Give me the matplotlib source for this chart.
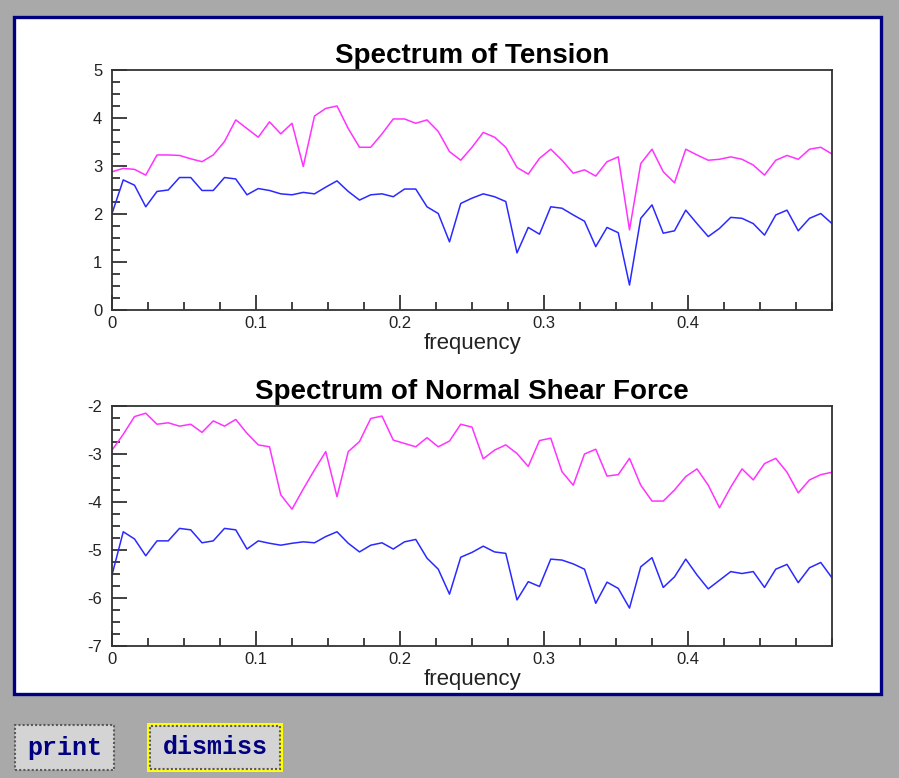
import numpy as np
import matplotlib
matplotlib.use("Agg")
import matplotlib.pyplot as plt
from matplotlib.patches import Rectangle
from matplotlib.ticker import MultipleLocator

plt.rcParams["font.family"] = ["Liberation Sans", "DejaVu Sans"]
plt.rcParams["axes.unicode_minus"] = False

# frequency grid: 65 bins from 0 to 0.5
freq = np.arange(65) / 128.0

tension_hi = [2.88, 2.95, 2.93, 2.81, 3.23, 3.23, 3.22, 3.15, 3.09, 3.23,
              3.51, 3.96, 3.78, 3.60, 3.92, 3.67, 3.89, 2.99, 4.04, 4.20,
              4.25, 3.78, 3.39, 3.39, 3.67, 3.98, 3.98, 3.89, 3.96, 3.72,
              3.30, 3.12, 3.39, 3.70, 3.60, 3.39, 2.97, 2.83, 3.16, 3.35,
              3.12, 2.85, 2.92, 2.79, 3.09, 3.19, 1.67, 3.05, 3.35, 2.88,
              2.65, 3.35, 3.23, 3.12, 3.14, 3.19, 3.14, 3.02, 2.81, 3.12,
              3.22, 3.14, 3.35, 3.39, 3.25]
tension_lo = [2.01, 2.71, 2.60, 2.15, 2.47, 2.50, 2.76, 2.76, 2.49, 2.49,
              2.76, 2.73, 2.40, 2.53, 2.49, 2.42, 2.40, 2.45, 2.42, 2.56,
              2.69, 2.47, 2.29, 2.40, 2.42, 2.36, 2.52, 2.52, 2.15, 2.01,
              1.42, 2.22, 2.33, 2.42, 2.36, 2.26, 1.19, 1.72, 1.58, 2.15,
              2.12, 1.98, 1.85, 1.32, 1.72, 1.61, 0.52, 1.91, 2.19, 1.60,
              1.65, 2.08, 1.80, 1.53, 1.70, 1.93, 1.91, 1.80, 1.56, 1.98,
              2.08, 1.65, 1.91, 2.01, 1.80]
shear_hi = [-2.92, -2.59, -2.22, -2.15, -2.38, -2.35, -2.42, -2.38, -2.55, -2.31,
            -2.42, -2.28, -2.57, -2.81, -2.85, -3.85, -4.15, -3.73, -3.33, -2.95,
            -3.89, -2.95, -2.74, -2.26, -2.21, -2.71, -2.78, -2.85, -2.66, -2.85,
            -2.73, -2.38, -2.44, -3.10, -2.92, -2.81, -2.99, -3.26, -2.72, -2.67,
            -3.37, -3.65, -3.00, -2.90, -3.46, -3.43, -3.09, -3.65, -3.98, -3.98,
            -3.75, -3.47, -3.31, -3.65, -4.12, -3.69, -3.31, -3.54, -3.20, -3.09,
            -3.38, -3.81, -3.54, -3.43, -3.38]
shear_lo = [-5.52, -4.62, -4.77, -5.12, -4.81, -4.81, -4.55, -4.58, -4.85, -4.81,
            -4.55, -4.58, -4.98, -4.81, -4.86, -4.90, -4.86, -4.83, -4.85, -4.72,
            -4.62, -4.86, -5.04, -4.90, -4.85, -4.98, -4.83, -4.78, -5.17, -5.40,
            -5.92, -5.15, -5.05, -4.92, -5.04, -5.07, -6.04, -5.66, -5.76, -5.19,
            -5.21, -5.29, -5.40, -6.11, -5.67, -5.80, -6.21, -5.35, -5.16, -5.78,
            -5.56, -5.19, -5.52, -5.81, -5.63, -5.45, -5.49, -5.45, -5.78, -5.40,
            -5.30, -5.68, -5.37, -5.26, -5.58]

panels = [
    ("Spectrum of Tension", tension_hi, tension_lo, (0, 5)),
    ("Spectrum of Normal Shear Force", shear_hi, shear_lo, (-7, -2)),
]

W, H = 899, 778
fig = plt.figure(figsize=(W / 100, H / 100), dpi=100, facecolor="#a9a9a9")

def fx(px):
    return px / W

def fy(py):
    return 1 - py / H

# white plotting panel with a navy frame, kept behind the axes
fig.patches.append(Rectangle((fx(13.5), fy(694)), fx(867), 677 / H,
                             transform=fig.transFigure, facecolor="white",
                             edgecolor="#000080", linewidth=2.4, zorder=-5))

ax_tops = [70, 406]
for (title, hi, lo, ylim), top in zip(panels, ax_tops):
    ax = fig.add_axes([fx(112), fy(top + 240), fx(720), 240 / H], zorder=2)
    ax.plot(freq, hi, color="#ff33ff", linewidth=1.1)
    ax.plot(freq, lo, color="#2a2aff", linewidth=1.1)
    ax.set_xlim(0, 0.5)
    ax.set_ylim(*ylim)
    ax.set_xticks([0, 0.1, 0.2, 0.3, 0.4])
    ax.set_xticklabels(["0", "0.1", "0.2", "0.3", "0.4"])
    ax.xaxis.set_minor_locator(MultipleLocator(0.025))
    ax.yaxis.set_major_locator(MultipleLocator(1))
    ax.yaxis.set_minor_locator(MultipleLocator(0.25))
    ax.tick_params(which="both", direction="in", color="#333333",
                   width=1.3, labelsize=12, labelcolor="#222222")
    ax.tick_params(which="major", length=11)
    ax.tick_params(which="minor", length=5.5)
    ax.tick_params(axis="x", which="major", pad=4)
    ax.tick_params(axis="y", which="major", pad=7)
    for sp in ax.spines.values():
        sp.set_linewidth(1.3)
        sp.set_color("#333333")
    ax.set_title(title, fontsize=20, fontweight="bold", pad=5)
    ax.set_xlabel("frequency", fontsize=16, labelpad=2, color="#222222")

# buttons below the panel
def button(x0, y0, w, h, label, focus=False):
    if focus:
        fig.patches.append(Rectangle((fx(x0 - 3), fy(y0 + h + 3)), fx(w + 6), (h + 6) / H,
                                     transform=fig.transFigure, facecolor="#ffff00",
                                     edgecolor="none", zorder=1))
    fig.patches.append(Rectangle((fx(x0), fy(y0 + h)), fx(w), h / H,
                                 transform=fig.transFigure, facecolor="#d4d4d4",
                                 edgecolor="#5a5a5a", linewidth=1.5,
                                 linestyle=(0, (1, 1)), zorder=2))
    fig.text(fx(x0 + w / 2), fy(y0 + h / 2), label, ha="center", va="center",
             family=["Liberation Mono", "DejaVu Sans Mono"], fontweight="bold",
             fontsize=18, color="#000080", zorder=3)

button(15, 725, 99, 45, "print")
button(150, 726, 130, 43, "dismiss", focus=True)

fig.savefig("out.png", dpi=100, facecolor=fig.get_facecolor())
